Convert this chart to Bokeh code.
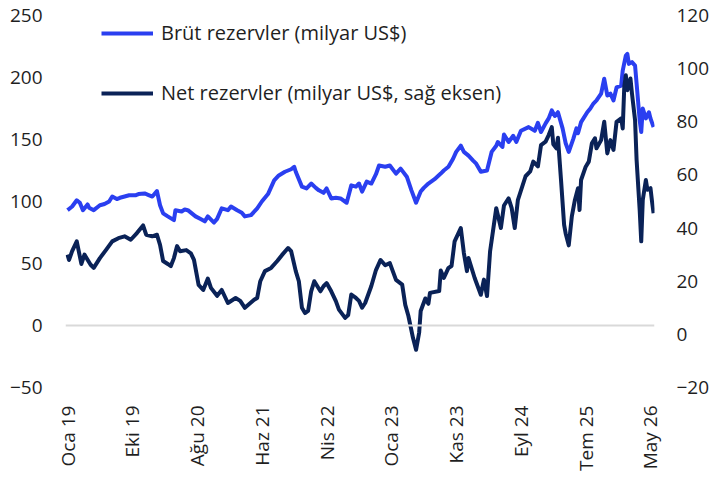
import math
from bokeh.plotting import figure
from bokeh.models import Range1d, LinearAxis, FixedTicker, Span, Legend, LegendItem
from bokeh.embed import file_html
from bokeh.resources import INLINE

# ---- data (x = week index from start of series, Jan 2019) ----
tick_weeks = [0, 42, 84, 126, 168, 210, 252, 294, 336, 378]
tick_labels = ["Oca 19", "Eki 19", "Ağu 20", "Haz 21", "Nis 22",
               "Oca 23", "Kas 23", "Eyl 24", "Tem 25", "May 26"]

gross_weeks = [0, 1, 3, 6, 8, 10, 13, 14, 17, 21, 24, 27, 29, 32, 34, 37, 40, 44, 46, 50,
               53, 55, 58, 60, 62, 65, 69, 70, 74, 76, 78, 81, 83, 86, 89, 91, 95, 97, 100, 104,
               106, 110, 113, 115, 119, 123, 126, 130, 134, 137, 141, 145, 147, 148, 152, 155, 158, 161, 163, 166,
               168, 171, 174, 177, 181, 184, 187, 189, 191, 194, 197, 200, 202, 206, 209, 213, 216, 220, 223, 226,
               229, 231, 234, 238, 242, 244, 247, 250, 252, 255, 257, 260, 263, 265, 268, 272, 275, 278, 279, 282,
               283, 286, 289, 291, 294, 299, 303, 305, 307, 310, 312, 314, 316, 318, 321, 323, 325, 328, 330, 331,
               333, 337, 339, 341, 343, 346, 348, 350, 352, 354, 356, 359, 360, 362, 363, 364, 366, 368, 369, 371,
               372, 373, 375, 377, 378, 380]
gross_values = [93, 94, 96, 101, 99, 93, 97.6, 95, 93, 97, 98, 100, 104, 102, 103, 104, 105, 105, 106, 106.5,
                105, 104, 108.4, 97, 90.4, 88, 85, 93, 92, 93.5, 93, 90, 88, 86, 84, 88, 83, 86, 94.5, 93,
                96, 93, 91, 88, 89, 94.5, 100, 106, 117, 121, 124, 126, 128, 124, 112, 110.5, 114.5, 111, 109, 107,
                110.5, 102.5, 103, 102.5, 99, 113, 112, 114.5, 108, 116, 114.5, 122, 129, 128, 129, 122.5, 126.5, 120, 109, 99,
                108, 111, 114.5, 118, 122.5, 125, 128, 134.5, 140, 145, 140, 137, 133, 130.5, 124, 125, 140, 145, 148, 144,
                154, 148, 153, 148, 157, 160, 157, 163.5, 156, 163, 167, 173.5, 169, 172, 159, 147, 140, 150.7, 159, 155,
                164, 172, 175, 179, 181.5, 187, 199, 185.5, 187, 181.5, 192, 193.5, 205.6, 217.7, 219, 211, 212.4, 209.6, 195, 165.4,
                156, 175, 167, 172, 167, 160]

net_weeks = [0, 1, 3, 6, 9, 11, 15, 17, 21, 25, 29, 33, 37, 41, 45, 49, 51, 55, 58, 60,
             62, 65, 67, 69, 71, 73, 77, 80, 82, 85, 88, 91, 93, 97, 100, 104, 109, 112, 115, 121,
             123, 125, 128, 132, 136, 139, 143, 145, 148, 150, 152, 154, 156, 158, 160, 164, 166, 168, 171, 174,
             176, 180, 182, 184, 187, 189, 191, 193, 197, 200, 203, 206, 209, 213, 217, 219, 221, 224, 226, 228,
             229, 232, 234, 235, 241, 242, 244, 247, 249, 251, 255, 257, 259, 260, 264, 268, 270, 272, 274, 278,
             281, 283, 286, 288, 290, 292, 297, 300, 302, 305, 307, 310, 312, 314, 315, 317, 318, 320, 322, 323,
             325, 327, 329, 331, 332, 333, 336, 338, 340, 342, 343, 346, 348, 350, 352, 354, 356, 359, 360, 361,
             362, 363, 365, 366, 368, 369, 371, 372, 373, 375, 376, 378, 379, 380]
net_values = [30, 28, 31.3, 35, 26.5, 30, 26.2, 25, 28.7, 31.8, 35, 36.2, 36.9, 35.6, 38.1, 41, 37.5, 36.9, 37.5, 33.7,
              27.6, 26.5, 25.7, 28.7, 33.2, 31.3, 31.7, 30.5, 28, 18.6, 16.7, 21, 17.5, 14.5, 16.7, 11.8, 13.7, 12.6, 10, 13,
              13.7, 20, 23.8, 25, 27.6, 29.8, 32.5, 31.3, 23.8, 20, 10, 8, 8.8, 16.2, 20, 16.2, 18.1, 19.3, 16.2, 12.5,
              9.3, 6.2, 7.3, 15, 13.7, 12.6, 10, 11.8, 18.2, 24.2, 28, 26, 26.8, 20.5, 18.7, 11.1, 7, -1.3, -5.8, 0.6,
              8.8, 13.5, 11.5, 15.6, 16.3, 24, 21.2, 25, 25.7, 35, 40, 30.6, 23.8, 28.7, 21.2, 14.9, 20.6, 14.4, 31.3, 47.5,
              40, 48.5, 51.2, 47.5, 40, 50.5, 59.5, 61.3, 65, 63.2, 71.2, 72.5, 75, 78, 71.5, 70, 74, 58, 41.2, 38,
              33.5, 44.4, 50.6, 55, 46.8, 58.1, 63.1, 65, 71.9, 73.8, 70, 73.1, 80, 68.1, 73.1, 69.4, 80, 81.3, 77.5, 93.2,
              97.5, 91.9, 96.3, 90.6, 80.6, 65.6, 46.8, 35, 50.6, 58.1, 54.4, 55, 50, 45.6]

left_ticks = [-50, 0, 50, 100, 150, 200, 250]
right_ticks = [-20, 0, 20, 40, 60, 80, 100, 120]

gross_label = "Brüt rezervler (milyar US$)"
net_label = "Net rezervler (milyar US$, sağ eksen)"

# ---- style ----
FONT = "Open Sans"
FS = "19px"
TXT = "#1f1f1f"
GROSS_C = "#2a3ff0"
NET_C = "#0a2257"

p = figure(frame_width=589, frame_height=372, output_backend="svg", toolbar_location=None,
           x_range=Range1d(-1.3, 380.6), y_range=Range1d(-50, 250),
           min_border_left=65, min_border_right=10, min_border_top=15, min_border_bottom=10)
p.outline_line_color = None
p.xgrid.visible = False
p.ygrid.visible = False
p.extra_y_ranges = {"right": Range1d(-20, 120)}

p.add_layout(Span(location=0, dimension="width", line_color="#d9d9d9", line_width=2))

r_gross = p.line(gross_weeks, gross_values, line_color=GROSS_C, line_width=4, line_join="round")
r_net = p.line(net_weeks, net_values, line_color=NET_C, line_width=4, line_join="round",
               y_range_name="right")

def style_axis(ax):
    ax.axis_line_color = None
    ax.major_tick_line_color = None
    ax.minor_tick_line_color = None
    ax.major_tick_out = 0
    ax.major_tick_in = 0
    ax.minor_tick_out = 0
    ax.minor_tick_in = 0
    ax.major_label_text_font = FONT
    ax.major_label_text_font_size = FS
    ax.major_label_text_color = TXT

# x axis
xa = p.xaxis[0]
xa.ticker = FixedTicker(ticks=tick_weeks)
xa.major_label_overrides = {w: lab for w, lab in zip(tick_weeks, tick_labels)}
xa.major_label_orientation = math.pi / 2
xa.major_label_standoff = 18
style_axis(xa)

# left axis
ya = p.yaxis[0]
ya.ticker = FixedTicker(ticks=left_ticks)
ya.major_label_standoff = 23
style_axis(ya)

# right axis
ra = LinearAxis(y_range_name="right", ticker=FixedTicker(ticks=right_ticks))
ra.major_label_standoff = 22
style_axis(ra)
ra.major_label_text_align = "left"
p.add_layout(ra, "right")

legend = Legend(items=[LegendItem(label=gross_label, renderers=[r_gross]),
                       LegendItem(label=net_label, renderers=[r_net])],
                location=(36, 281), orientation="vertical",
                glyph_width=52, glyph_height=24, label_height=24, label_standoff=8,
                spacing=33, padding=0, margin=0,
                border_line_color=None, background_fill_alpha=0,
                label_text_font=FONT, label_text_font_size="20px", label_text_color=TXT)
p.add_layout(legend, "center")

open("out.html", "w").write(file_html(p, INLINE))
